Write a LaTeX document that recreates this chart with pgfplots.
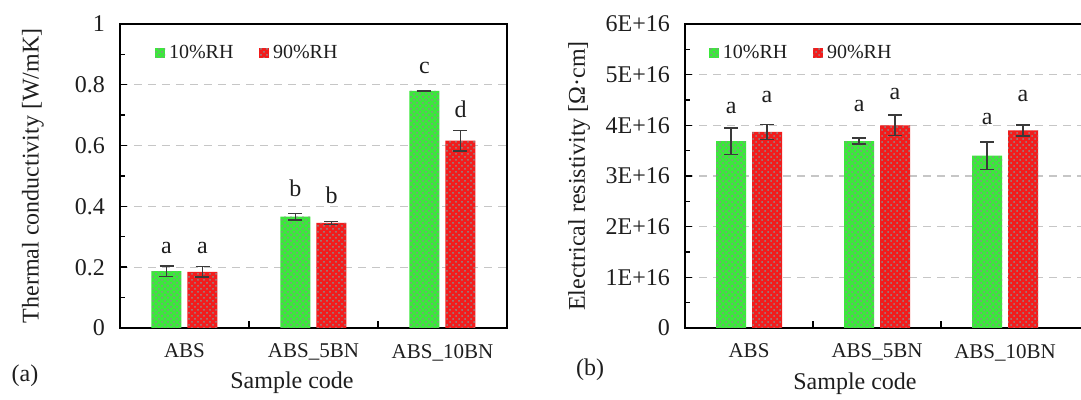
\documentclass[border=0pt]{standalone}
\usepackage{fontspec}
\setmainfont{LiberationSerif}[Extension=.ttf, UprightFont=*-Regular, BoldFont=*-Bold, ItalicFont=*-Italic, BoldItalicFont=*-BoldItalic]
\usepackage{pgfplots}
\pgfplotsset{compat=1.18}
\usetikzlibrary{patterns}

\definecolor{barg}{HTML}{3BE83B}
\definecolor{barr}{HTML}{F21C1C}
\definecolor{dotc}{HTML}{8C8C8C}
\definecolor{txt}{HTML}{1E1E1E}
\definecolor{errc}{HTML}{3A3A3A}

\pgfplotsset{
  panel/.style={
    scale only axis,
    height=152pt,
    ymin=0, xmin=-0.5,
    ybar=3pt, bar width=15pt,
    xtick={0.5,1.5}, xticklabels={},
    extra x ticks={0,1,2},
    extra x tick labels={ABS,ABS\_5BN,ABS\_10BN},
    extra x tick style={major tick length=0pt, grid=none,
      tick label style={font=\fontsize{10.5}{12}\selectfont, yshift=-4.5pt}},
    tick align=inside, xtick pos=bottom, ytick pos=left,
    major tick length=3.5pt, minor tick length=2.5pt,
    minor y tick num=1,
    tick style={black, line width=0.7pt},
    axis line style={black, line width=0.8pt},
    ymajorgrids,
    major grid style={gray!45, line width=0.6pt, dash pattern=on 4pt off 3pt},
    tick label style={text=txt},
    yticklabel style={font=\fontsize{12}{14}\selectfont, xshift=-4pt},
    label style={font=\fontsize{12}{14}\selectfont, text=txt},
    clip=false,
    error bars/y dir=both, error bars/y explicit,
    error bars/error mark=-,
    error bars/error bar style={errc, line width=0.7pt},
    error bars/error mark options={errc, line width=0.7pt, mark size=3.5pt, rotate=90},
    legend columns=2,
    legend style={draw=none, fill=none, anchor=west,
      font=\fontsize{10}{12}\selectfont, text=txt,
      /tikz/every even column/.append style={column sep=11pt}},
    legend image code/.code={\draw[#1, draw=none] (0pt,-2.4pt) rectangle (4.8pt,2.4pt);},
  },
  gbar/.style={fill=barg, draw=none, postaction={pattern=crosshatch dots, pattern color=dotc}},
  rbar/.style={fill=barr, draw=none, postaction={pattern=crosshatch dots, pattern color=dotc}},
}

\begin{document}
\begin{tikzpicture}
% (a) thermal conductivity
\begin{axis}[panel,
  width=193.5pt, xmax=2.5, ymax=1,
  ytick={0,0.2,0.4,0.6,0.8,1},
  yticklabels={0,0.2,0.4,0.6,0.8,1},
  ylabel={Thermal conductivity [W/mK]},
  ylabel style={at={(axis description cs:-0.225,0.5)}, anchor=center},
  legend style={at={(axis description cs:0.075,0.905)}},
]
\addplot[gbar] coordinates {
(0,0.187) +- (0,0.017)
(1,0.366) +- (0,0.011)
(2,0.780) +- (0,0.002)
};
\addplot[rbar] coordinates {
(0,0.185) +- (0,0.017)
(1,0.346) +- (0,0.005)
(2,0.616) +- (0,0.034)
};
\legend{10\%RH,90\%RH}
\node[font=\fontsize{12}{14}\selectfont, text=txt] at (axis cs:-0.14,0.263) {a};
\node[font=\fontsize{12}{14}\selectfont, text=txt] at (axis cs:0.14,0.263) {a};
\node[font=\fontsize{12}{14}\selectfont, text=txt] at (axis cs:0.86,0.46) {b};
\node[font=\fontsize{12}{14}\selectfont, text=txt] at (axis cs:1.14,0.437) {b};
\node[font=\fontsize{12}{14}\selectfont, text=txt] at (axis cs:1.86,0.855) {c};
\node[font=\fontsize{12}{14}\selectfont, text=txt] at (axis cs:2.14,0.72) {d};
\end{axis}

% (b) electrical resistivity, values in units of 1E+16
\begin{axis}[panel, at={(282.5pt,0pt)},
  width=199.7pt, xmax=2.62, ymax=6,
  ytick={0,1,2,3,4,5,6},
  yticklabels={0,1E+16,2E+16,3E+16,4E+16,5E+16,6E+16},
  ylabel={Electrical resistivity [Ω·cm]},
  ylabel style={at={(axis description cs:-0.265,0.5)}, anchor=center},
  legend style={at={(axis description cs:0.045,0.905)}},
]
\addplot[gbar] coordinates {
(0,3.69) +- (0,0.26)
(1,3.69) +- (0,0.06)
(2,3.40) +- (0,0.27)
};
\addplot[rbar] coordinates {
(0,3.87) +- (0,0.15)
(1,4.00) +- (0,0.20)
(2,3.90) +- (0,0.11)
};
\legend{10\%RH,90\%RH}
\node[font=\fontsize{12}{14}\selectfont, text=txt] at (axis cs:-0.14,4.35) {a};
\node[font=\fontsize{12}{14}\selectfont, text=txt] at (axis cs:0.14,4.55) {a};
\node[font=\fontsize{12}{14}\selectfont, text=txt] at (axis cs:0.86,4.39) {a};
\node[font=\fontsize{12}{14}\selectfont, text=txt] at (axis cs:1.14,4.61) {a};
\node[font=\fontsize{12}{14}\selectfont, text=txt] at (axis cs:1.86,4.12) {a};
\node[font=\fontsize{12}{14}\selectfont, text=txt] at (axis cs:2.14,4.57) {a};
\end{axis}

\node[font=\fontsize{12}{14}\selectfont, text=txt] at (-47.5pt,-24pt) {(a)};
\node[font=\fontsize{12}{14}\selectfont, text=txt] at (86pt,-27.5pt) {Sample code};
\node[font=\fontsize{12}{14}\selectfont, text=txt] at (235pt,-21pt) {(b)};
\node[font=\fontsize{12}{14}\selectfont, text=txt] at (367.5pt,-28pt) {Sample code};

\pgfresetboundingbox
\path[use as bounding box] (-60pt,-36pt) rectangle (480.5pt,164pt);
\end{tikzpicture}
\end{document}
